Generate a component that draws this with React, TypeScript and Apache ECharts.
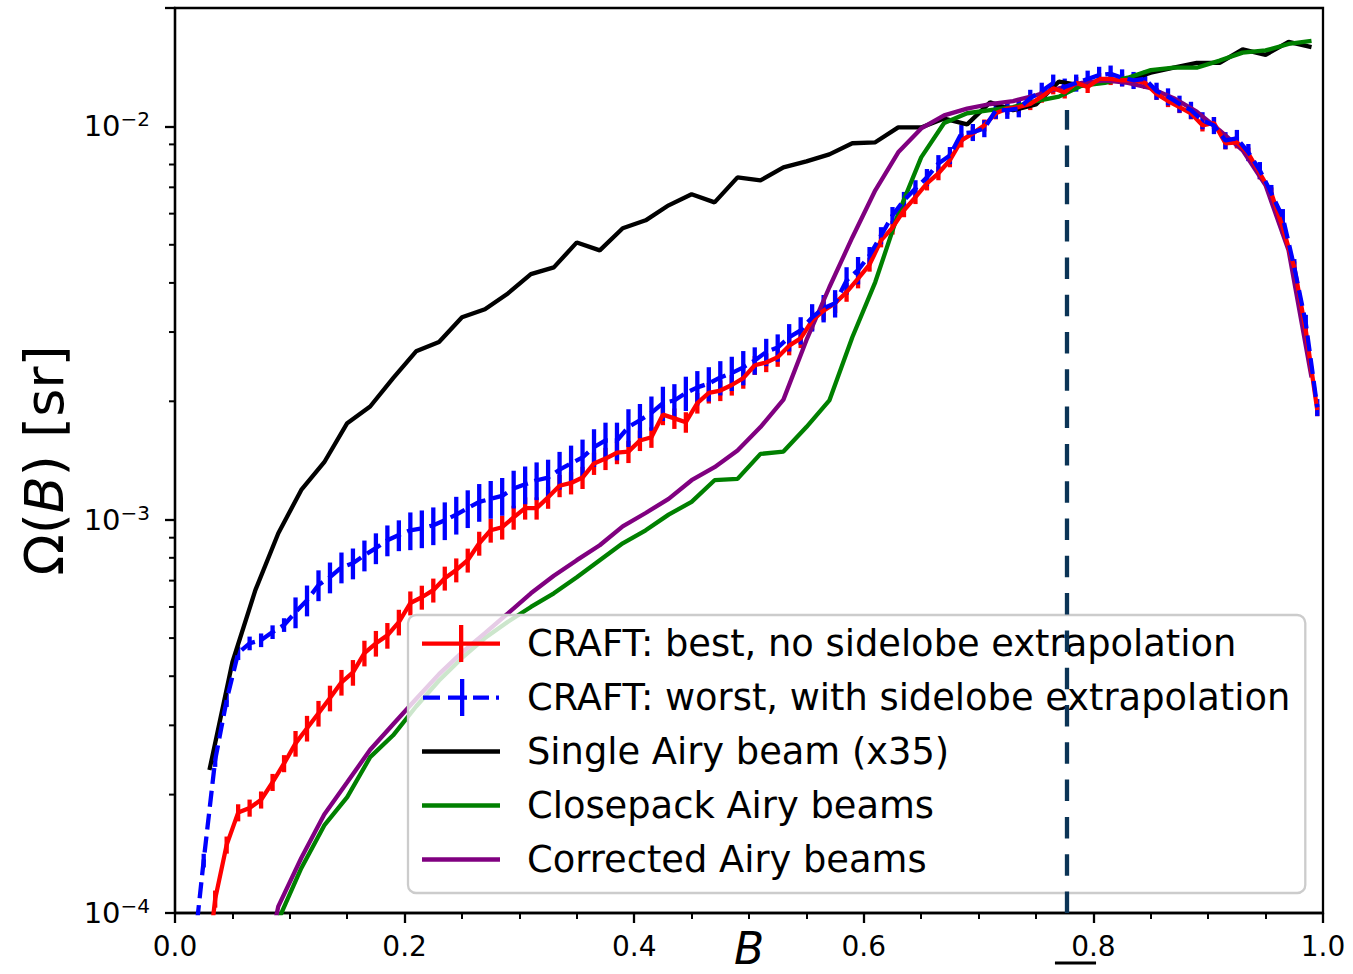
import React, { useEffect, useRef } from "react";
import * as echarts from "echarts";

// ---------- data ----------
const blackB = [0.03,0.05,0.07,0.09,0.11,0.13,0.15,0.17,0.19,0.21,0.23,0.25,0.27,0.29,0.31,0.33,0.35,0.37,0.39,0.41,0.43,0.45,0.47,0.49,0.51,0.53,0.55,0.57,0.59,0.61,0.63,0.65,0.67,0.69,0.71,0.73,0.75,0.77,0.79,0.81,0.83,0.85,0.87,0.89,0.91,0.93,0.95,0.97,0.99];
const blackV = [2.31e-4,4.34e-4,6.62e-4,9.24e-4,1.19e-3,1.40e-3,1.76e-3,1.94e-3,2.29e-3,2.68e-3,2.83e-3,3.27e-3,3.43e-3,3.76e-3,4.21e-3,4.38e-3,5.07e-3,4.84e-3,5.51e-3,5.77e-3,6.30e-3,6.72e-3,6.41e-3,7.42e-3,7.29e-3,7.87e-3,8.15e-3,8.49e-3,9.06e-3,9.11e-3,9.94e-3,9.94e-3,1.047e-2,1.012e-2,1.151e-2,1.099e-2,1.137e-2,1.30e-2,1.27e-2,1.31e-2,1.31e-2,1.37e-2,1.41e-2,1.45e-2,1.45e-2,1.57e-2,1.52e-2,1.64e-2,1.59e-2];

const airyB = [0.07,0.09,0.11,0.13,0.15,0.17,0.19,0.21,0.23,0.25,0.27,0.29,0.31,0.33,0.35,0.37,0.39,0.41,0.43,0.45,0.47,0.49,0.51,0.53,0.55,0.57,0.59,0.61,0.63,0.65,0.67,0.69,0.71,0.73,0.75,0.77,0.79,0.81,0.83,0.85,0.87,0.89,0.91,0.93,0.95,0.97,0.99];
const greenV = [5.0e-5,9.6e-5,1.30e-4,1.67e-4,1.97e-4,2.49e-4,2.83e-4,3.35e-4,3.90e-4,4.45e-4,5.00e-4,5.50e-4,6.00e-4,6.50e-4,7.14e-4,7.89e-4,8.71e-4,9.40e-4,1.03e-3,1.11e-3,1.26e-3,1.27e-3,1.47e-3,1.49e-3,1.72e-3,2.01e-3,2.91e-3,4.02e-3,6.0e-3,8.34e-3,1.02e-2,1.08e-2,1.10e-2,1.12e-2,1.16e-2,1.19e-2,1.27e-2,1.29e-2,1.33e-2,1.39e-2,1.41e-2,1.41e-2,1.47e-2,1.54e-2,1.56e-2,1.62e-2,1.65e-2];
const purpleV = [5.5e-5,1.04e-4,1.38e-4,1.78e-4,2.15e-4,2.60e-4,3.02e-4,3.50e-4,4.05e-4,4.60e-4,5.15e-4,5.78e-4,6.50e-4,7.20e-4,7.89e-4,8.61e-4,9.62e-4,1.04e-3,1.13e-3,1.26e-3,1.36e-3,1.50e-3,1.72e-3,2.02e-3,2.86e-3,3.90e-3,5.22e-3,6.88e-3,8.59e-3,9.88e-3,1.067e-2,1.11e-2,1.14e-2,1.16e-2,1.20e-2,1.25e-2,1.29e-2,1.31e-2,1.29e-2,1.25e-2,1.18e-2,1.09e-2,9.77e-3,8.69e-3,7.08e-3,4.84e-3,2.30e-3];

const redB = [0.025,0.035,0.045,0.055,0.065,0.075,0.085,0.095,0.105,0.115,0.125,0.135,0.145,0.155,0.165,0.175,0.185,0.195,0.205,0.215,0.225,0.235,0.245,0.255,0.265,0.275,0.285,0.295,0.305,0.315,0.325,0.335,0.345,0.355,0.365,0.375,0.385,0.395,0.405,0.415,0.425,0.435,0.445,0.455,0.465,0.475,0.485,0.495,0.505,0.515,0.525,0.535,0.545,0.555,0.565,0.575,0.585,0.595,0.605,0.615,0.625,0.635,0.645,0.655,0.665,0.675,0.685,0.695,0.705,0.715,0.725,0.735,0.745,0.755,0.765,0.775,0.785,0.795,0.805,0.815,0.825,0.835,0.845,0.855,0.865,0.875,0.885,0.895,0.905,0.915,0.925,0.935,0.945,0.955,0.965,0.975,0.985,0.995];
const redV = [6.0e-5,1.086e-4,1.49e-4,1.80e-4,1.85e-4,1.94e-4,2.15e-4,2.40e-4,2.70e-4,2.95e-4,3.22e-4,3.52e-4,3.86e-4,4.09e-4,4.58e-4,4.85e-4,5.08e-4,5.49e-4,6.14e-4,6.35e-4,6.62e-4,7.10e-4,7.45e-4,7.89e-4,8.71e-4,9.40e-4,9.57e-4,1.014e-3,1.07e-3,1.07e-3,1.14e-3,1.22e-3,1.24e-3,1.28e-3,1.39e-3,1.43e-3,1.48e-3,1.49e-3,1.59e-3,1.62e-3,1.85e-3,1.81e-3,1.77e-3,1.98e-3,2.10e-3,2.13e-3,2.20e-3,2.29e-3,2.47e-3,2.51e-3,2.59e-3,2.77e-3,2.89e-3,3.21e-3,3.40e-3,3.55e-3,3.79e-3,4.10e-3,4.45e-3,5.13e-3,5.53e-3,6.12e-3,6.61e-3,7.16e-3,7.60e-3,8.20e-3,9.21e-3,9.60e-3,1.006e-2,1.08e-2,1.11e-2,1.12e-2,1.14e-2,1.19e-2,1.25e-2,1.22e-2,1.29e-2,1.26e-2,1.32e-2,1.32e-2,1.31e-2,1.31e-2,1.29e-2,1.21e-2,1.16e-2,1.12e-2,1.08e-2,1.006e-2,1.02e-2,9.06e-3,9.11e-3,8.53e-3,7.60e-3,6.76e-3,5.53e-3,4.38e-3,3.03e-3,1.90e-3];

const blueB = [0.015,0.025,0.035,0.045,0.055,0.065,0.075,0.085,0.095,0.105,0.115,0.125,0.135,0.145,0.155,0.165,0.175,0.185,0.195,0.205,0.215,0.225,0.235,0.245,0.255,0.265,0.275,0.285,0.295,0.305,0.315,0.325,0.335,0.345,0.355,0.365,0.375,0.385,0.395,0.405,0.415,0.425,0.435,0.445,0.455,0.465,0.475,0.485,0.495,0.505,0.515,0.525,0.535,0.545,0.555,0.565,0.575,0.585,0.595,0.605,0.615,0.625,0.635,0.645,0.655,0.665,0.675,0.685,0.695,0.705,0.715,0.725,0.735,0.745,0.755,0.765,0.775,0.785,0.795,0.805,0.815,0.825,0.835,0.845,0.855,0.865,0.875,0.885,0.895,0.905,0.915,0.925,0.935,0.945,0.955,0.965,0.975,0.985,0.995];
const blueV = [7.3e-5,1.36e-4,2.45e-4,3.48e-4,4.58e-4,4.85e-4,4.94e-4,5.18e-4,5.40e-4,5.82e-4,6.24e-4,6.82e-4,7.14e-4,7.57e-4,7.75e-4,8.12e-4,8.47e-4,8.87e-4,9.14e-4,9.40e-4,9.51e-4,9.68e-4,9.97e-4,1.03e-3,1.07e-3,1.11e-3,1.13e-3,1.15e-3,1.20e-3,1.23e-3,1.26e-3,1.28e-3,1.34e-3,1.39e-3,1.44e-3,1.53e-3,1.59e-3,1.59e-3,1.72e-3,1.79e-3,1.87e-3,1.98e-3,2.01e-3,2.10e-3,2.17e-3,2.22e-3,2.30e-3,2.36e-3,2.44e-3,2.54e-3,2.67e-3,2.74e-3,2.91e-3,3.03e-3,3.27e-3,3.45e-3,3.55e-3,4.06e-3,4.31e-3,4.70e-3,5.28e-3,5.94e-3,6.49e-3,6.95e-3,7.42e-3,8.05e-3,8.44e-3,9.60e-3,9.66e-3,9.88e-3,1.10e-2,1.10e-2,1.11e-2,1.18e-2,1.23e-2,1.29e-2,1.26e-2,1.29e-2,1.32e-2,1.35e-2,1.36e-2,1.33e-2,1.31e-2,1.32e-2,1.23e-2,1.19e-2,1.14e-2,1.10e-2,1.035e-2,1.006e-2,9.21e-3,9.33e-3,8.59e-3,7.73e-3,6.76e-3,5.87e-3,4.38e-3,3.16e-3,1.93e-3];

// relative half-size of error bars, per 0.1-wide band of B
const redErrFrac = [0.05, 0.075, 0.07, 0.065, 0.06, 0.055, 0.04, 0.035, 0.035, 0.035];
const blueErrFrac = [0.04, 0.09, 0.11, 0.11, 0.10, 0.08, 0.05, 0.05, 0.05, 0.05];

const beamB = [0.777];
const beamRange = [1e-4, 1.1e-2];

const xTicks = [0, 0.2, 0.4, 0.6, 0.8, 1.0];
const yMinorTicks = [2e-4,3e-4,4e-4,5e-4,6e-4,7e-4,8e-4,9e-4,2e-3,3e-3,4e-3,5e-3,6e-3,7e-3,8e-3,9e-3];

const NAMES = {
  red: "CRAFT: best, no sidelobe extrapolation",
  blue: "CRAFT: worst, with sidelobe extrapolation",
  black: "Single Airy beam (x35)",
  green: "Closepack Airy beams",
  purple: "Corrected Airy beams",
};

const FONT = "DejaVu Sans";
const W = 1353;
const H = 974;
const LW = 4.3;

export default function App() {
  const ref = useRef<HTMLDivElement>(null);

  useEffect(() => {
    const el = ref.current!;
    const chart = echarts.init(el, undefined, { renderer: "svg" });

    const pair = (xs: number[], ys: number[]) => xs.map((x, i) => [x, ys[i]]);
    const bars = (xs: number[], ys: number[], fr: number[]) =>
      xs.map((x, i) => {
        const f = fr[Math.min(9, Math.floor(x * 10))];
        return [x, ys[i] * (1 - f), ys[i] * (1 + f)];
      });
    const barRender = (color: string) => (params: any, api: any) => {
      const x = api.value(0);
      const p1 = api.coord([x, api.value(1)]);
      const p2 = api.coord([x, api.value(2)]);
      return {
        type: "line",
        shape: { x1: p1[0], y1: p1[1], x2: p2[0], y2: p2[1] },
        style: { stroke: color, lineWidth: LW },
      };
    };

    const lineSeries = (name: string, data: any[], color: string, extra: any = {}) => ({
      type: "line",
      name,
      data,
      color,
      showSymbol: false,
      symbol: "none",
      clip: true,
      silent: true,
      lineStyle: { color, width: LW, ...(extra.lineStyle || {}) },
      z: extra.z ?? 2,
    });

    const LINE_ICON = "path://M0,16.5h78v4.3h-78z";
    const RED_ICON = "path://M0,16.5h78v4.3h-78z M37,0h4.3v37h-4.3z";
    const BLUE_ICON =
      "path://M0,16.5h17v4.3h-17z M25,16.5h19v4.3h-19z M50,16.5h16v4.3h-16z M73,16.5h3v4.3h-3z M37,0h4.3v37h-4.3z";

    const option: any = {
      animation: false,
      backgroundColor: "#ffffff",
      textStyle: { fontFamily: FONT },
      grid: {
        left: 175,
        right: 30,
        top: 8,
        bottom: 61,
        outerBoundsMode: "none",
        containLabel: false,
        show: true,
        borderColor: "#000",
        borderWidth: 2.3,
        backgroundColor: "transparent",
      },
      legend: {
        show: true,
        orient: "vertical",
        left: 408,
        top: 615,
        itemWidth: 78,
        itemHeight: 37,
        itemGap: 17,
        padding: [10, 15, 15, 14],
        backgroundColor: "rgba(255,255,255,0.8)",
        borderColor: "#cccccc",
        borderWidth: 2.3,
        borderRadius: 8,
        symbolKeepAspect: true,
        selectedMode: false,
        itemStyle: { borderWidth: 0 },
        textStyle: {
          fontFamily: FONT,
          fontSize: 36.8,
          color: "#000",
          lineHeight: 37,
          padding: [0, 0, 0, 22],
        },
        data: [
          { name: NAMES.red, icon: RED_ICON },
          { name: NAMES.blue, icon: BLUE_ICON },
          { name: NAMES.black, icon: LINE_ICON },
          { name: NAMES.green, icon: LINE_ICON },
          { name: NAMES.purple, icon: LINE_ICON },
        ],
      },
      xAxis: {
        type: "value",
        min: xTicks[0],
        max: xTicks[xTicks.length - 1],
        interval: 0.2,
        axisLine: { show: true, onZero: false, lineStyle: { color: "#000", width: 2.3 } },
        axisTick: { show: true, inside: false, length: 10, lineStyle: { color: "#000", width: 2.3 } },
        minorTick: { show: true, splitNumber: 4, length: 6, lineStyle: { color: "#000", width: 2 } },
        splitLine: { show: false },
        minorSplitLine: { show: false },
        axisLabel: {
          show: true,
          showMinLabel: true,
          showMaxLabel: true,
          fontFamily: FONT,
          fontSize: 28,
          lineHeight: 32,
          color: "#000",
          margin: 17,
          formatter: (v: number) => v.toFixed(1),
        },
        name: "B",
        nameLocation: "middle",
        nameGap: 15,
        nameMoveOverlap: false,
        nameTextStyle: { fontFamily: FONT, fontSize: 44, lineHeight: 40, fontStyle: "italic", color: "#000" },
      },
      yAxis: {
        type: "log",
        logBase: 10,
        min: 1e-4,
        max: 0.02,
        axisLine: { show: true, onZero: false, lineStyle: { color: "#000", width: 2.3 } },
        axisTick: { show: true, inside: false, length: 10, lineStyle: { color: "#000", width: 2.3 } },
        splitLine: { show: false },
        axisLabel: {
          show: true,
          margin: 25,
          color: "#000",
          formatter: (v: number) => {
            const e = Math.round(Math.log10(v));
            if (Math.abs(v / Math.pow(10, e) - 1) > 1e-6) return "";
            return "{b|10}{s|" + (e < 0 ? "\u2212" : "") + Math.abs(e) + "}";
          },
          rich: {
            b: { fontFamily: FONT, fontSize: 29, lineHeight: 34, color: "#000" },
            s: { fontFamily: FONT, fontSize: 20, lineHeight: 17, verticalAlign: "top", color: "#000" },
          },
        },
        name: "{a|\u03a9(}{i|B}{a|) [sr]}",
        nameLocation: "middle",
        nameRotate: 90,
        nameGap: 101,
        nameMoveOverlap: false,
        nameTextStyle: {
          rich: {
            a: { fontFamily: FONT, fontSize: 54, lineHeight: 60, color: "#000" },
            i: { fontFamily: FONT, fontSize: 54, lineHeight: 60, fontStyle: "italic", color: "#000" },
          },
        },
      },
      series: [
        lineSeries(NAMES.black, pair(blackB, blackV), "#000000"),
        lineSeries(NAMES.green, pair(airyB, greenV), "#008000"),
        lineSeries(NAMES.purple, pair(airyB, purpleV), "#800080"),
        {
          type: "custom",
          name: "red-errorbars",
          data: bars(redB, redV, redErrFrac),
          encode: { x: 0, y: [1, 2] },
          renderItem: barRender("#ff0000"),
          clip: true,
          silent: true,
          z: 2,
        },
        lineSeries(NAMES.red, pair(redB, redV), "#ff0000"),
        {
          type: "custom",
          name: "blue-errorbars",
          data: bars(blueB, blueV, blueErrFrac),
          encode: { x: 0, y: [1, 2] },
          renderItem: barRender("#0000ff"),
          clip: true,
          silent: true,
          z: 2,
        },
        lineSeries(NAMES.blue, pair(blueB, blueV), "#0000ff", {
          lineStyle: { type: [16, 7] },
        }),
        {
          type: "line",
          name: "beam-line",
          data: [
            [beamB[0], beamRange[0]],
            [beamB[0], beamRange[1]],
          ],
          showSymbol: false,
          symbol: "none",
          silent: true,
          clip: false,
          z: 10,
          lineStyle: {
            color: "#0b3456",
            width: 4.3,
            type: [21.5, 15.8],
          },
        },
        {
          type: "custom",
          name: "y-minor-ticks",
          data: yMinorTicks.map((v) => [xTicks[0], v]),
          clip: false,
          silent: true,
          z: 3,
          renderItem: (params: any, api: any) => {
            const p = api.coord([api.value(0), api.value(1)]);
            return {
              type: "line",
              shape: { x1: p[0] - 6, y1: p[1], x2: p[0], y2: p[1] },
              style: { stroke: "#000", lineWidth: 2 },
            };
          },
        },
      ],
    };

    chart.setOption(option);

    // short underline below the 0.8 tick label (as in the reference)
    const a = chart.convertToPixel({ gridIndex: 0 }, [0.7665, 1e-4]) as number[];
    const b = chart.convertToPixel({ gridIndex: 0 }, [0.8023, 1e-4]) as number[];
    chart.setOption({
      graphic: [
        {
          type: "line",
          silent: true,
          shape: { x1: a[0], y1: a[1] + 50, x2: b[0], y2: b[1] + 50 },
          style: { stroke: "#000", lineWidth: 3 },
        },
      ],
    });

    return () => {
      chart.dispose();
    };
  }, []);

  return (
    <div
      ref={ref}
      style={{ position: "fixed", left: 0, top: 0, width: W, height: H, background: "#fff" }}
    />
  );
}
